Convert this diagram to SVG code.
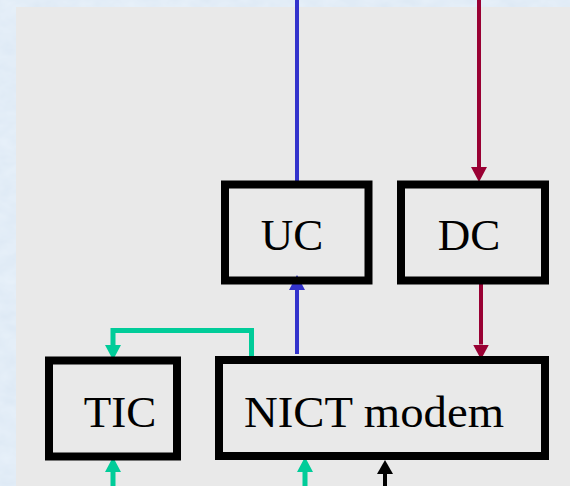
<svg xmlns="http://www.w3.org/2000/svg" width="570" height="486" viewBox="0 0 570 486">
  <style>
    .box { fill: none; stroke: #000; stroke-width: 8; }
    .lbl { font-family: "Liberation Serif", "DejaVu Serif", serif; font-size: 45px; fill: #000; text-anchor: middle; }
    .blue { stroke: #3333cc; stroke-width: 4; fill: none; }
    .red { stroke: #990033; stroke-width: 4; fill: none; }
    .green { stroke: #00cc99; stroke-width: 5; fill: none; }
    .black { stroke: #000; stroke-width: 4; fill: none; }
  </style>
  <defs>
    <filter id="marble" x="0" y="0" width="100%" height="100%">
      <feTurbulence type="fractalNoise" baseFrequency="0.05 0.08" numOctaves="3" seed="4" result="n"/>
      <feColorMatrix in="n" type="matrix" values="0 0 0 0 0.82  0 0 0 0 0.89  0 0 0 0 0.96  0 0 0 -0.9 0.9"/>
    </filter>
    <marker id="aBlue" viewBox="0 0 15 16" refX="0" refY="8" markerWidth="15" markerHeight="16" markerUnits="userSpaceOnUse" orient="auto">
      <path d="M0,0 L15,8 L0,16 z" fill="#3333cc"/>
    </marker>
    <marker id="aRed" viewBox="0 0 15 16" refX="0" refY="8" markerWidth="15" markerHeight="16" markerUnits="userSpaceOnUse" orient="auto">
      <path d="M0,0 L15,8 L0,16 z" fill="#990033"/>
    </marker>
    <marker id="aGreen" viewBox="0 0 15 16" refX="0" refY="8" markerWidth="15" markerHeight="16" markerUnits="userSpaceOnUse" orient="auto">
      <path d="M0,0 L15,8 L0,16 z" fill="#00cc99"/>
    </marker>
    <marker id="aBlack" viewBox="0 0 14 16" refX="0" refY="8" markerWidth="14" markerHeight="16" markerUnits="userSpaceOnUse" orient="auto">
      <path d="M0,0 L14,8 L0,16 z" fill="#000"/>
    </marker>
  </defs>

  <g id="background">
    <rect x="0" y="0" width="570" height="486" fill="#dce8f4"/>
    <rect x="0" y="0" width="570" height="486" filter="url(#marble)"/>
    <rect x="16" y="7" width="554" height="479" fill="#e9e9e9"/>
  </g>

  <g id="connectors">
    <line class="blue" x1="297" y1="0" x2="297" y2="184"/>
    <line class="blue" x1="297" y1="354" x2="297" y2="290" marker-end="url(#aBlue)"/>
    <line class="red" x1="479" y1="0" x2="479" y2="167" marker-end="url(#aRed)"/>
    <line class="red" x1="481" y1="281" x2="481" y2="344.5" marker-end="url(#aRed)"/>
    <path class="green" d="M251.5,362 V330.5 H113 V345" marker-end="url(#aGreen)"/>
    <line class="green" x1="113" y1="486" x2="113" y2="472" marker-end="url(#aGreen)"/>
    <line class="green" x1="305" y1="486" x2="305" y2="472" marker-end="url(#aGreen)"/>
    <line class="black" x1="385" y1="486" x2="385" y2="474" marker-end="url(#aBlack)"/>
  </g>

  <g id="node-uc">
    <rect class="box" x="225" y="184.5" width="143.5" height="96"/>
    <text class="lbl" x="292" y="250">UC</text>
  </g>
  <g id="node-dc">
    <rect class="box" x="401" y="184.5" width="144" height="96"/>
    <text class="lbl" x="469" y="250">DC</text>
  </g>
  <g id="node-tic">
    <rect class="box" x="49" y="360.5" width="128" height="96"/>
    <text class="lbl" x="120" y="426.5">TIC</text>
  </g>
  <g id="node-nict">
    <rect class="box" x="219" y="360" width="326" height="96"/>
    <text class="lbl" x="374" y="426.5" textLength="260" lengthAdjust="spacingAndGlyphs">NICT modem</text>
  </g>
</svg>
